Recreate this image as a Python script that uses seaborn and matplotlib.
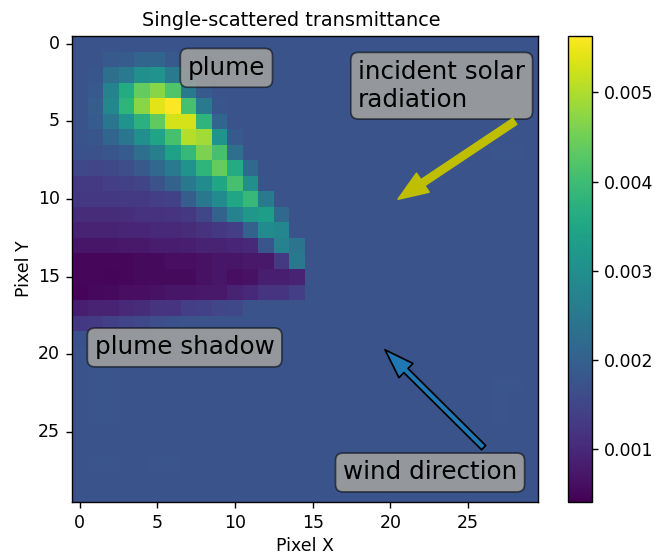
import numpy as np
import matplotlib
matplotlib.use('Agg')
import matplotlib.pyplot as plt
import seaborn as sns

# transmittance values, in units of 1e-3
background = 1.74
rows = [
    [],
    [1.74, 1.74, 1.85, 1.9, 2.1, 2.1, 1.85],
    [1.74, 1.8, 2.3, 2.55, 3.0, 3.1, 2.55, 2.0],
    [1.74, 1.85, 2.75, 3.6, 4.4, 4.7, 4.2, 2.55, 1.85],
    [1.74, 1.95, 2.85, 3.8, 4.7, 5.4, 5.6, 4.1, 2.55, 1.8],
    [1.74, 1.9, 2.45, 3.1, 3.75, 4.35, 5.3, 5.3, 3.8, 2.1],
    [1.74, 1.8, 2.1, 2.45, 3.0, 3.45, 4.1, 5.05, 4.9, 3.1, 1.85],
    [1.7, 1.7, 1.8, 1.9, 2.3, 2.65, 3.4, 3.9, 4.6, 4.1, 2.3],
    [1.55, 1.5, 1.55, 1.65, 1.85, 2.15, 2.55, 3.1, 3.8, 4.4, 3.6, 2.15],
    [1.3, 1.3, 1.35, 1.4, 1.45, 1.75, 2.05, 2.5, 2.9, 3.5, 4.1, 3.0],
    [1.25, 1.25, 1.25, 1.3, 1.3, 1.35, 1.4, 1.95, 2.5, 2.9, 3.5, 3.9, 2.55],
    [1.05, 1.05, 1.05, 1.1, 1.15, 1.15, 1.2, 1.25, 1.5, 2.05, 2.7, 3.2, 3.3, 2.15],
    [0.9, 0.9, 0.9, 0.95, 0.95, 1.0, 1.0, 1.05, 1.15, 1.25, 1.35, 2.05, 2.9, 2.8],
    [0.7, 0.7, 0.7, 0.75, 0.75, 0.8, 0.8, 0.85, 0.9, 0.9, 0.95, 1.0, 1.8, 2.7, 2.4],
    [0.5, 0.5, 0.5, 0.5, 0.55, 0.55, 0.6, 0.6, 0.65, 0.7, 0.7, 0.75, 0.75, 1.3, 2.5],
    [0.5, 0.5, 0.48, 0.5, 0.55, 0.55, 0.55, 0.55, 0.65, 0.7, 0.6, 0.65, 0.85, 0.85, 0.9],
    [0.47, 0.52, 0.55, 0.6, 0.6, 0.65, 0.7, 0.7, 0.75, 0.75, 0.9, 1.0, 1.2, 1.2, 1.35],
    [0.85, 0.9, 0.9, 1.0, 1.05, 1.2, 1.2, 1.35, 1.4, 1.5, 1.55],
    [1.25, 1.3, 1.4, 1.45, 1.55, 1.65, 1.7],
    [1.7],
    [],
    [1.74, 1.78, 1.78],
    [1.74, 1.78, 1.78],
    [1.74, 1.78, 1.78],
    [1.74, 1.78, 1.78],
    [],
    [],
    [1.74, 1.78, 1.78, 1.74, 1.74, 1.78, 1.78],
    [],
    [],
]
# faint patch on the right side: (row, col, value)
right_patch = [(7, 27, 1.79), (7, 28, 1.79), (22, 27, 1.79), (22, 28, 1.79),
               (23, 27, 1.79), (24, 27, 1.79)]

vmin = 0.41e-3
vmax = 5.63e-3
cbar_ticks = [0.001, 0.002, 0.003, 0.004, 0.005]

grid = np.full((30, 30), background)
for r, row in enumerate(rows):
    grid[r, :len(row)] = row
for r, c, v in right_patch:
    grid[r, c] = v
grid = grid * 1e-3

W, H = 655, 554
fig = plt.figure(figsize=(W / 125, H / 125), dpi=125)
ax = fig.add_axes([72 / W, 1 - 502 / H, 466 / W, 466 / H])
cax = fig.add_axes([568 / W, 1 - 502 / H, 24 / W, 466 / H])

sns.heatmap(grid, ax=ax, cbar_ax=cax, cmap='viridis', vmin=vmin, vmax=vmax,
            xticklabels=5, yticklabels=5, cbar_kws={'ticks': cbar_ticks, 'format': '%.3f'})
ax.tick_params(axis='y', labelrotation=0)
ax.tick_params(axis='x', labelrotation=0)
for s in ax.spines.values():
    s.set_visible(True)
    s.set_linewidth(0.8)
cbar = ax.collections[0].colorbar
cbar.outline.set_visible(True)
cbar.outline.set_linewidth(0.8)
cbar.outline.set_edgecolor('black')

ax.set_title('Single-scattered transmittance', fontsize=11.1, pad=5.5, x=0.47)
ax.set_xlabel('Pixel X', labelpad=3)
ax.set_ylabel('Pixel Y', labelpad=3)

box = dict(boxstyle='round', facecolor=(0.67, 0.667, 0.63, 0.8), edgecolor=(0, 0, 0, 0.55))
ax.text(9.94, 2.05, 'plume', fontsize=14.2, ha='center', va='center', bbox=box)
ax.text(23.8, 3.2, 'incident solar\nradiation', fontsize=14.2, ha='center', va='center',
        multialignment='left', bbox=box)
ax.text(7.25, 20.05, 'plume shadow', fontsize=14.2, ha='center', va='center', bbox=box)
ax.text(23.05, 28.1, 'wind direction', fontsize=14.2, ha='center', va='center', bbox=box)

ax.annotate('', xy=(21.0, 10.5), xytext=(28.5, 5.5),
            arrowprops=dict(facecolor='y', edgecolor='y', width=4, headwidth=13,
                            headlength=17, shrink=0))
ax.annotate('', xy=(20.15, 20.2), xytext=(26.5, 26.5),
            arrowprops=dict(facecolor='C0', edgecolor='black', width=3.4, headwidth=11.5,
                            headlength=17, shrink=0))

fig.savefig('out.png', dpi=125)
plt.close(fig)
